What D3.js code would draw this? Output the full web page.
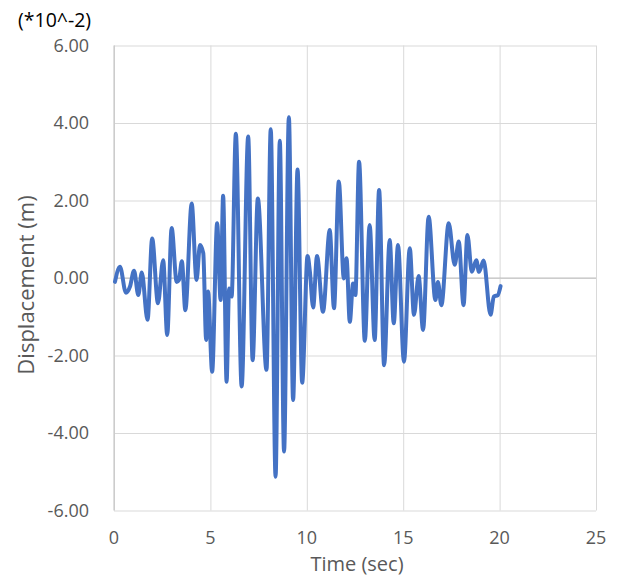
<!DOCTYPE html>
<html>
<head>
<meta charset="utf-8">
<script src="https://cdn.jsdelivr.net/npm/d3@7"></script>
<style>
  body { margin: 0; background: #fff; }
  text { font-family: 'Open Sans', 'Noto Sans', sans-serif; }
</style>
</head>
<body>
<div id="chart"></div>
<script>
// time (sec) and displacement (*10^-2 m) at its turning points
const timeSec = [
  0.05, 0.31, 0.62, 0.83, 1.04, 1.26, 1.44, 1.74, 1.98, 2.28,
  2.55, 2.76, 2.99, 3.25, 3.37, 3.52, 3.70, 4.03, 4.28, 4.46,
  4.63, 4.78, 4.88, 5.09, 5.35, 5.53, 5.66, 5.84, 5.97, 6.10,
  6.32, 6.62, 6.96, 7.19, 7.46, 7.91, 8.13, 8.38, 8.60, 8.82,
  9.07, 9.29, 9.52, 9.76, 10.04, 10.16, 10.33, 10.53, 10.84, 11.19,
  11.41, 11.66, 11.92, 12.06, 12.23, 12.40, 12.52, 12.71, 13.01, 13.26,
  13.52, 13.75, 14.01, 14.30, 14.51, 14.73, 15.04, 15.34, 15.56, 15.80,
  16.03, 16.32, 16.67, 16.80, 16.98, 17.36, 17.67, 17.88, 18.13, 18.33,
  18.56, 18.79, 18.93, 19.17, 19.53, 19.70, 19.91, 20.05
];
const displacement = [
  -0.10, 0.29, -0.38, -0.22, 0.19, -0.44, 0.14, -1.08, 1.02, -0.65,
  0.46, -1.47, 1.29, -0.10, -0.05, 0.43, -0.83, 1.92, -0.05, 0.85,
  0.64, -1.60, -0.35, -2.42, 1.41, -0.57, 2.12, -2.68, -0.27, -0.48,
  3.72, -2.80, 3.65, -2.12, 2.05, -2.37, 3.84, -5.13, 3.54, -4.48,
  4.15, -3.15, 2.80, -2.70, 0.57, 0.16, -0.76, 0.57, -0.87, 1.24,
  -0.78, 2.49, -0.01, 0.51, -1.13, -0.14, -0.44, 3.00, -1.62, 1.37,
  -1.60, 2.27, -2.25, 0.98, -1.17, 0.85, -2.16, 0.77, -0.95, 0.05,
  -1.34, 1.58, -0.57, -0.10, -0.70, 1.41, 0.34, 0.94, -0.70, 1.11,
  0.16, 0.46, 0.16, 0.45, -0.95, -0.48, -0.44, -0.21
];
const xTicks = [0, 5, 10, 15, 20, 25];
const yTicks = [-6, -4, -2, 0, 2, 4, 6];

const width = 621, height = 579;
const plot = { left: 114, right: 596, top: 45.5, bottom: 510.5 };

const points = timeSec.map((t, i) => ({ t: t, v: displacement[i] }));

const x = d3.scaleLinear().domain([0, 25]).range([plot.left, plot.right]);
const y = d3.scaleLinear().domain([-6, 6]).range([plot.bottom, plot.top]);

const svg = d3.select('#chart')
  .append('svg')
  .attr('width', width)
  .attr('height', height);

// gridlines
svg.append('g')
  .attr('class', 'grid-x')
  .attr('transform', 'translate(0,' + plot.bottom + ')')
  .call(d3.axisBottom(x).tickValues(xTicks).tickSize(-(plot.bottom - plot.top)).tickFormat(''))
  .call(g => g.select('.domain').remove())
  .selectAll('line')
  .attr('stroke', '#d9d9d9');

svg.append('g')
  .attr('class', 'grid-y')
  .attr('transform', 'translate(' + plot.left + ',0)')
  .call(d3.axisLeft(y).tickValues(yTicks).tickSize(-(plot.right - plot.left)).tickFormat(''))
  .call(g => g.select('.domain').remove())
  .selectAll('line')
  .attr('stroke', '#d9d9d9');

// axis lines (zero crossings)
svg.append('line')
  .attr('x1', x(0)).attr('x2', x(0))
  .attr('y1', plot.top).attr('y2', plot.bottom)
  .attr('stroke', '#bfbfbf');
svg.append('line')
  .attr('x1', plot.left).attr('x2', plot.right)
  .attr('y1', y(0)).attr('y2', y(0))
  .attr('stroke', '#bfbfbf');

// tick labels
svg.append('g')
  .selectAll('text')
  .data(yTicks)
  .join('text')
  .attr('x', 89)
  .attr('y', d => y(d))
  .attr('dy', '0.35em')
  .attr('text-anchor', 'end')
  .attr('fill', '#595959')
  .style('font-size', '18px')
  .text(d => d.toFixed(2));

svg.append('g')
  .selectAll('text')
  .data(xTicks)
  .join('text')
  .attr('x', d => x(d))
  .attr('y', 538)
  .attr('dy', '0.35em')
  .attr('text-anchor', 'middle')
  .attr('fill', '#595959')
  .style('font-size', '18px')
  .text(d => d);

// titles
svg.append('text')
  .attr('x', 357)
  .attr('y', 571)
  .attr('text-anchor', 'middle')
  .attr('fill', '#595959')
  .style('font-size', '20px')
  .text('Time (sec)');

svg.append('text')
  .attr('transform', 'translate(34,285) rotate(-90)')
  .attr('text-anchor', 'middle')
  .attr('fill', '#595959')
  .style('font-size', '22px')
  .text('Displacement (m)');

svg.append('text')
  .attr('x', 18)
  .attr('y', 27)
  .attr('fill', '#000')
  .style('font-size', '19.5px')
  .text('(*10^-2)');

// the displacement trace
const line = d3.line()
  .x(d => x(d.t))
  .y(d => y(d.v))
  .curve(d3.curveMonotoneX);

svg.append('path')
  .datum(points)
  .attr('fill', 'none')
  .attr('stroke', '#4472c4')
  .attr('stroke-width', 4)
  .attr('stroke-linejoin', 'round')
  .attr('stroke-linecap', 'round')
  .attr('d', line);
</script>
</body>
</html>
